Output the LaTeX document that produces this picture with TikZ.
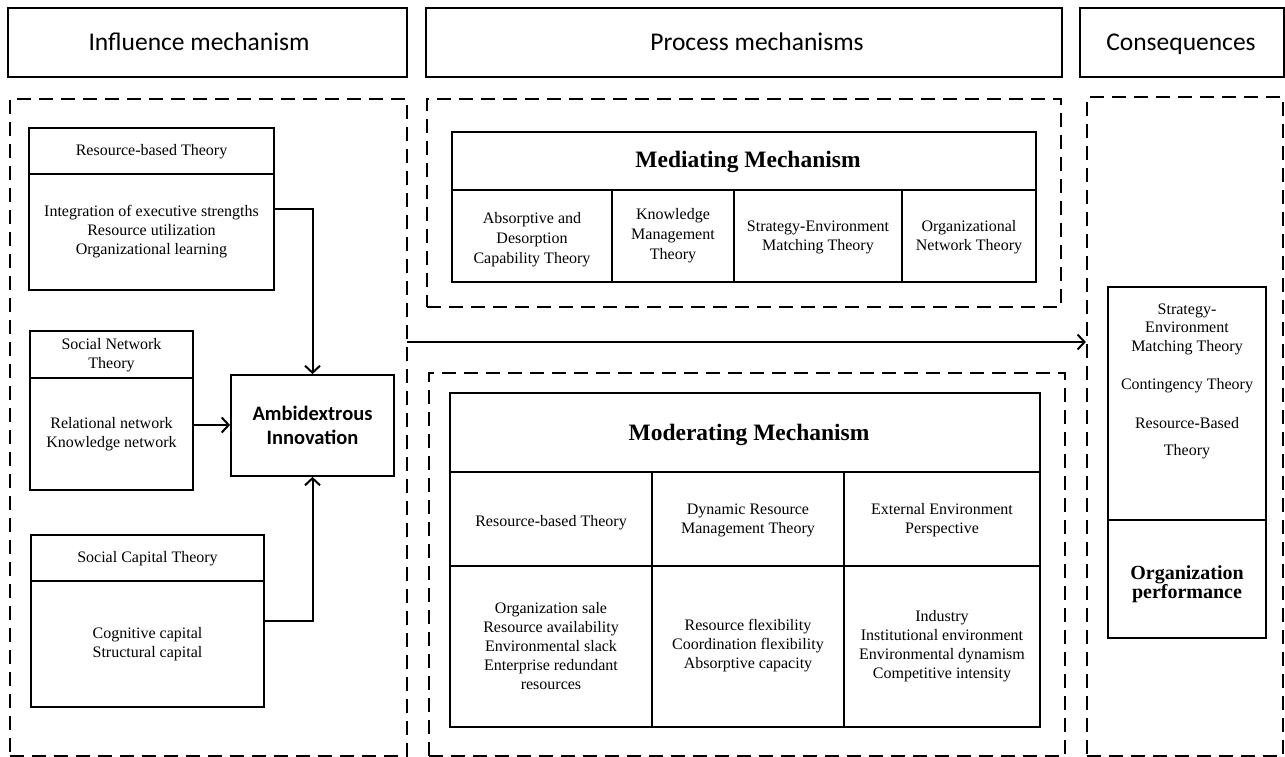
\documentclass[tikz,border=0pt]{standalone}
\usepackage{fontspec}
\setmainfont{Liberation Serif}
\newfontfamily\hfont{Carlito}
\usetikzlibrary{fit,arrows.meta}
\tikzset{
  hdr/.style={draw, line width=2pt, inner sep=0pt},
  dbox/.style={draw, line width=2.2pt, dash pattern=on 14pt off 8pt, inner sep=0pt},
  sbox/.style={draw, line width=1.8pt, inner sep=0pt},
  htext/.style={anchor=base, inner sep=0pt, font=\hfont\fontsize{25.5}{30}\selectfont},
  txt/.style={align=center, inner sep=0pt, font=\fontsize{16}{19}\selectfont},
  btxt/.style={align=center, inner sep=0pt, font=\bfseries\fontsize{23.5}{28}\selectfont},
  conn/.style={line width=2pt},
  arr/.style={line width=2pt, -{Straight Barb[length=7pt,width=15pt,line width=2pt]}},
  divl/.style={line width=1.8pt}
}
\begin{document}
\begin{tikzpicture}[x=1pt,y=-1pt]
\useasboundingbox (0,0) rectangle (1285,757);
% headers
\node[hdr, fit={(8,8) (407,77)}] (h1) {};
\node[htext] at (199,51) {Influence mechanism};
\node[hdr, fit={(426,8) (1062,77)}] (h2) {};
\node[htext] at (757,51) {Process mechanisms};
\node[hdr, fit={(1080,8) (1284,77)}] (h3) {};
\node[htext] at (1181,51) {Consequences};
% dashed regions
\node[dbox, fit={(10,99) (407,756)}] (d1) {};
\node[dbox, fit={(427,99) (1061,307)}] (d2) {};
\node[dbox, fit={(429,373) (1065,756)}] (d3) {};
\node[dbox, fit={(1087,97) (1283,756)}] (d4) {};
% left: Resource-based
\node[sbox, fit={(29,128) (274,290)}] (rb) {};
\draw[divl] (29,174) -- (274,174);
\node[txt] at (151.5,152) {Resource-based Theory};
\node[txt] at (151.5,232) {Integration of executive strengths\\Resource utilization\\Organizational learning};
% Social network
\node[sbox, fit={(30,331) (193,490)}] (sn) {};
\draw[divl] (30,378) -- (193,378);
\node[txt] at (111.5,355) {Social Network\\Theory};
\node[txt] at (111.5,434) {Relational network\\Knowledge network};
% Social capital
\node[sbox, fit={(31,535) (264,707)}] (sc) {};
\draw[divl] (31,581) -- (264,581);
\node[txt] at (147.5,559) {Social Capital Theory};
\node[txt] at (147.5,644) {Cognitive capital\\Structural capital};
% Ambidextrous
\node[sbox, fit={(231,375) (394,476)}] (amb) {};
\node[align=center, inner sep=0pt, font=\hfont\bfseries\fontsize{20.5}{24}\selectfont] at (312.5,425) {Ambidextrous\\Innovation};
% connectors
\coordinate (rbout) at (274,209);
\coordinate (snout) at (193,425);
\coordinate (scout) at (264,621);
\draw[arr] (rbout) -| (amb.north);
\draw[arr] (snout) -- (snout -| amb.west);
\draw[arr] (scout) -| (amb.south);
% Mediating
\node[sbox, fit={(452,132) (1036,282)}] (med) {};
\draw[divl] (452,190) -- (1036,190);
\draw[divl] (612,190) -- (612,282);
\draw[divl] (734,190) -- (734,282);
\draw[divl] (902,190) -- (902,282);
\node[btxt] at (748,162) {Mediating Mechanism};
\node[txt, font=\fontsize{16}{20}\selectfont] at (532,240) {Absorptive and\\Desorption\\Capability Theory};
\node[txt, font=\fontsize{16}{20}\selectfont] at (673,236) {Knowledge\\Management\\Theory};
\node[txt] at (818,237) {Strategy-Environment\\Matching Theory};
\node[txt] at (969,237) {Organizational\\Network Theory};
% main arrow
\coordinate (mstart) at (407,342);
\draw[arr] (mstart) -- (mstart -| d4.west);
% Moderating
\node[sbox, fit={(450,393) (1040,727)}] (mod) {};
\draw[divl] (450,472) -- (1040,472);
\draw[divl] (450,566) -- (1040,566);
\draw[divl] (652,472) -- (652,727);
\draw[divl] (844,472) -- (844,727);
\node[btxt] at (749,435) {Moderating Mechanism};
\node[txt] at (551,523) {Resource-based Theory};
\node[txt] at (748,520) {Dynamic Resource\\Management Theory};
\node[txt] at (942,520) {External Environment\\Perspective};
\node[txt] at (551,646.5) {Organization sale\\Resource availability\\Environmental slack\\Enterprise redundant\\resources};
\node[txt] at (748,646) {Resource flexibility\\Coordination flexibility\\Absorptive capacity};
\node[txt] at (942,646.5) {Industry\\Institutional environment\\Environmental dynamism\\Competitive intensity};
% Consequences
\node[sbox, fit={(1108,287) (1266,638)}] (con) {};
\draw[divl] (1108,520) -- (1266,520);
\node[txt, font=\fontsize{16}{18.5}\selectfont] at (1187,329) {Strategy-\\Environment\\Matching Theory};
\node[txt] at (1187,386) {Contingency Theory};
\node[txt, font=\fontsize{16}{27}\selectfont] at (1187,438) {Resource-Based\\Theory};
\node[align=center, inner sep=0pt, font=\bfseries\fontsize{20}{19}\selectfont] at (1187,584) {Organization\\performance};
\end{tikzpicture}
\end{document}
